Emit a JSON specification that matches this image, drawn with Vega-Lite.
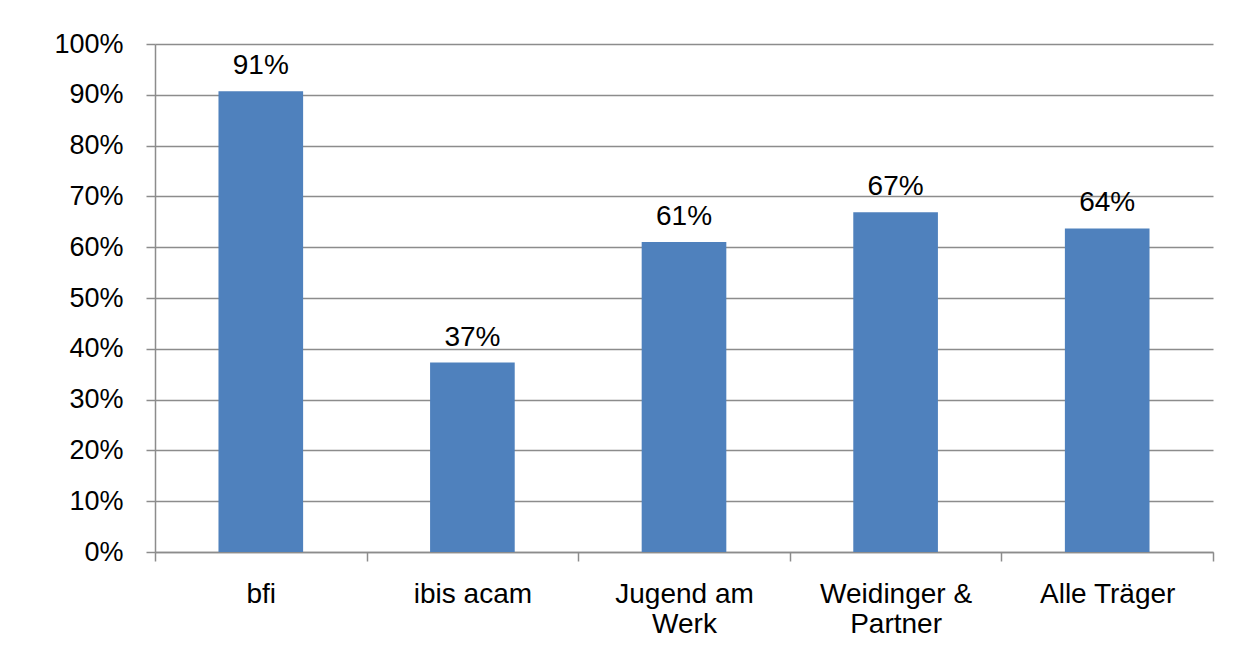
{
  "$schema": "https://vega.github.io/schema/vega-lite/v6.json",
  "width": 1058,
  "height": 508,
  "autosize": {"type": "none"},
  "padding": {"left": 155, "top": 44, "right": 27, "bottom": 107},
  "background": "white",
  "config": {
    "view": {"stroke": null},
    "font": "Liberation Sans"
  },
  "data": {
    "values": [
      {"traeger": "bfi", "anteil": 0.907},
      {"traeger": "ibis acam", "anteil": 0.373},
      {"traeger": "Jugend am Werk", "anteil": 0.61},
      {"traeger": "Weidinger & Partner", "anteil": 0.669},
      {"traeger": "Alle Träger", "anteil": 0.637}
    ]
  },
  "encoding": {
    "x": {
      "field": "traeger",
      "type": "nominal",
      "sort": null,
      "title": null,
      "scale": {"paddingInner": 0, "paddingOuter": 0},
      "axis": {
        "labelAngle": 0,
        "labelFont": "Liberation Sans",
        "labelFontSize": 28,
        "labelColor": "#000000",
        "labelBaseline": "top",
        "labelPadding": 19,
        "labelLineHeight": 30,
        "labelExpr": "datum.value == 'Jugend am Werk' ? ['Jugend am', 'Werk'] : datum.value == 'Weidinger & Partner' ? ['Weidinger &', 'Partner'] : datum.value",
        "tickBand": "extent",
        "tickSize": 9,
        "tickColor": "#8c8c8c",
        "tickWidth": 1.5,
        "domainColor": "#8c8c8c",
        "domainWidth": 1.5,
        "grid": false
      }
    },
    "y": {
      "field": "anteil",
      "type": "quantitative",
      "title": null,
      "scale": {"domain": [0, 1], "nice": false},
      "axis": {
        "format": ".0%",
        "values": [0, 0.1, 0.2, 0.3, 0.4, 0.5, 0.6, 0.7, 0.8, 0.9, 1],
        "labelFont": "Liberation Sans",
        "labelFontSize": 27,
        "labelColor": "#000000",
        "labelPadding": 23,
        "tickSize": 9,
        "tickColor": "#8c8c8c",
        "tickWidth": 1.5,
        "domainColor": "#8c8c8c",
        "domainWidth": 1.5,
        "grid": true,
        "gridColor": "#8c8c8c",
        "gridWidth": 1.5
      }
    }
  },
  "layer": [
    {"mark": {"type": "bar", "color": "#4F81BD", "width": {"band": 0.4}}},
    {
      "mark": {
        "type": "text",
        "baseline": "alphabetic",
        "dy": -17,
        "font": "Liberation Sans",
        "fontSize": 28,
        "color": "#000000"
      },
      "encoding": {
        "text": {"field": "anteil", "type": "quantitative", "format": ".0%"}
      }
    }
  ]
}
